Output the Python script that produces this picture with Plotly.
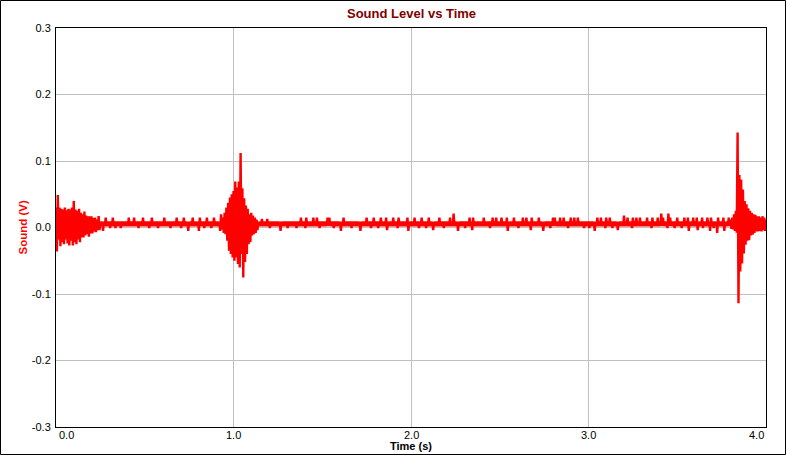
import numpy as np
import plotly.graph_objects as go

# ---------------- data ----------------
# trace resolved as one oscillation (high, low) per 10 ms bin, 0.00 .. 4.00 s
bin_s = 0.01
n_bins = 401

# quiet part of the signal: band between these levels (mV)
quiet_hi_mv = 9
quiet_lo_mv = 2

# isolated upward noise spikes in the quiet parts
spike_t = [0.28, 0.32, 0.41, 0.44, 0.49, 0.54, 0.61, 0.68, 0.72, 0.77, 0.81, 0.85, 0.89,
           1.16, 1.19, 1.38, 1.41, 1.45, 1.47, 1.53, 1.54, 1.62, 1.75, 1.79, 1.83, 1.86,
           1.90, 1.93, 1.98, 2.02, 2.06, 2.10, 2.16, 2.22, 2.24, 2.33, 2.35, 2.41, 2.46,
           2.48, 2.51, 2.54, 2.58, 2.63, 2.65, 2.68, 2.72, 2.80, 2.81, 2.84, 2.86, 2.90,
           2.92, 2.94, 3.05, 3.07, 3.10, 3.12, 3.20, 3.22, 3.25, 3.27, 3.29, 3.33, 3.36,
           3.39, 3.41, 3.42, 3.45, 3.46, 3.50, 3.54, 3.56, 3.59, 3.61, 3.64, 3.67, 3.69,
           3.73, 3.76, 3.79]
spike_mv = [15, 15, 15, 15, 15, 15, 15, 15, 15, 15, 15, 15, 15,
            13, 13, 15, 15, 15, 15, 15, 15, 15, 15, 15, 15, 15,
            15, 15, 15, 15, 15, 15, 15, 15, 21, 15, 15, 15, 15,
            15, 15, 15, 15, 15, 15, 15, 15, 15, 15, 15, 15, 15,
            15, 15, 15, 15, 15, 15, 18, 15, 15, 15, 15, 15, 15,
            15, 21, 15, 21, 15, 15, 15, 15, 15, 15, 15, 15, 15,
            15, 15, 15]

# downward dips in the quiet parts
dip_t = [0.26, 0.30, 0.33, 0.36, 0.46, 0.52, 0.57, 0.64, 0.70, 0.74, 0.80, 0.83, 0.87, 0.92,
         1.20, 1.26, 1.30, 1.35, 1.40, 1.48, 1.56, 1.60, 1.66, 1.71, 1.77, 1.81, 1.86, 1.92,
         1.98, 2.04, 2.08, 2.12, 2.18, 2.26, 2.30, 2.34, 2.44, 2.54, 2.60, 2.67, 2.74, 2.78,
         2.88, 2.97, 3.00, 3.03, 3.09, 3.13, 3.16, 3.24, 3.35, 3.44, 3.48, 3.52, 3.56, 3.61,
         3.64, 3.68, 3.70, 3.72, 3.76]
dip_mv = [-5, -1, -1, -1, -1, -1, -1, -1, -1, -5, -5, -1, -1, -5,
          -1, -5, -1, -1, -1, -1, -1, -5, -1, -5, -1, -1, -4, -1,
          -5, -1, -1, -4, -1, -5, -1, -4, -1, -5, -1, -4, -5, -1,
          -1, -1, -1, -5, -1, -1, -4, -1, -1, -1, -1, -1, -5, -4,
          -1, -5, -1, -8, -5]

# bursts: start time and (high, low) per bin in mV
burst1_t0 = 0.00
burst1_hi_mv = [30, 49, 30, 28, 27, 30, 26, 28, 27, 30, 40, 27, 25, 28, 22, 20, 24, 18, 17, 17, 17, 14, 15, 12, 17]
burst1_lo_mv = [-36, -18, -28, -22, -25, -18, -24, -27, -20, -27, -22, -25, -18, -22, -15, -15, -12, -10, -14, -9, -9, -6, -7, -4, -4]

burst2_t0 = 0.93
burst2_hi_mv = [20, 15, 22, 30, 37, 45, 50, 55, 69, 60, 69, 112, 59, 44, 33, 28, 20, 22, 18, 15, 12]
burst2_lo_mv = [-3, -8, -10, -20, -35, -40, -45, -50, -45, -55, -60, -40, -75, -52, -40, -25, -22, -12, -10, -8, -4]

burst3_t0 = 3.80
burst3_hi_mv = [12, 15, 20, 25, 143, 79, 72, 57, 40, 35, 29, 25, 22, 20, 19, 17, 17, 15, 17, 15, 12]
burst3_lo_mv = [-2, -3, -5, -8, -114, -66, -54, -39, -26, -20, -19, -12, -11, -8, -6, -6, -5, -6, -4, -5, -3]

x_tick_vals = [0, 1, 2, 3, 4]
x_tick_text = ["0.0", "1.0", "2.0", "3.0", "4.0"]
y_tick_vals = [-0.3, -0.2, -0.1, 0.0, 0.1, 0.2, 0.3]
y_tick_text = ["-0.3", "-0.2", "-0.1", "0.0", "0.1", "0.2", "0.3"]

# ---------------- assemble the trace ----------------
hi = np.full(n_bins, float(quiet_hi_mv))
lo = np.full(n_bins, float(quiet_lo_mv))
for t, v in zip(spike_t, spike_mv):
    hi[int(round(t / bin_s))] = v
for t, v in zip(dip_t, dip_mv):
    lo[int(round(t / bin_s))] = v
for t0, h, l in [(burst1_t0, burst1_hi_mv, burst1_lo_mv),
                 (burst2_t0, burst2_hi_mv, burst2_lo_mv),
                 (burst3_t0, burst3_hi_mv, burst3_lo_mv)]:
    i0 = int(round(t0 / bin_s))
    hi[i0:i0 + len(h)] = h
    lo[i0:i0 + len(l)] = l

idx = np.arange(n_bins)
time_s = np.empty(2 * n_bins)
time_s[0::2] = idx * bin_s
time_s[1::2] = idx * bin_s + bin_s / 2
sound_v = np.empty(2 * n_bins)
sound_v[0::2] = hi / 1000.0
sound_v[1::2] = lo / 1000.0

# ---------------- figure ----------------
W, H = 786, 455
ML, MR, MT, MB = 56, 20, 28, 28
PW, PH = W - ML - MR, H - MT - MB

def px(xp):
    return (xp - ML) / PW

def py(yp):
    return (H - MB - yp) / PH

fig = go.Figure()
fig.add_trace(go.Scatter(x=time_s, y=sound_v, mode="lines",
                         line=dict(color="#ff0000", width=2.4),
                         hoverinfo="skip", showlegend=False))

grid = "#c0c0c0"
font = "Liberation Sans, Arial, sans-serif"
fig.update_layout(
    width=W, height=H,
    margin=dict(l=ML, r=MR, t=MT, b=MB, pad=0),
    paper_bgcolor="white", plot_bgcolor="white",
    showlegend=False,
    font=dict(family=font, size=11, color="black"),
    xaxis=dict(range=[0, 4], tickvals=x_tick_vals, showticklabels=False,
               showgrid=True, gridcolor=grid, gridwidth=1, zeroline=False,
               showline=True, linecolor="black", linewidth=1, mirror=True,
               ticks=""),
    yaxis=dict(range=[-0.3, 0.3], tickvals=y_tick_vals, ticktext=y_tick_text,
               showgrid=True, gridcolor=grid, gridwidth=1,
               zeroline=True, zerolinecolor=grid, zerolinewidth=1,
               showline=True, linecolor="black", linewidth=1, mirror=True,
               ticks="outside", ticklen=2, tickcolor="white",
               tickfont=dict(family=font, size=11, color="black")),
)

annotations = [
    dict(text="<b>Sound Level vs Time</b>", xref="paper", yref="paper",
         x=0.5, y=py(14), xanchor="center", yanchor="middle", showarrow=False,
         font=dict(family=font, size=13, color="#800000")),
    dict(text="<b>Time (s)</b>", xref="paper", yref="paper",
         x=0.5, y=py(446), xanchor="center", yanchor="middle", showarrow=False,
         font=dict(family=font, size=11, color="black")),
    dict(text="<b>Sound (V)</b>", xref="paper", yref="paper", textangle=-90,
         x=px(22), y=0.5, xanchor="center", yanchor="middle", showarrow=False,
         font=dict(family=font, size=11.5, color="#ff0000")),
]
for v, txt in zip(x_tick_vals, x_tick_text):
    anchor = "left" if v == x_tick_vals[0] else ("right" if v == x_tick_vals[-1] else "center")
    annotations.append(dict(text=txt, xref="x", yref="paper", x=v, y=py(435),
                            xanchor=anchor, yanchor="middle", showarrow=False,
                            xshift=1 if anchor == "left" else 0,
                            font=dict(family=font, size=11, color="black")))
fig.update_layout(annotations=annotations)

fig.add_shape(type="rect", xref="paper", yref="paper",
              x0=px(0.5), x1=px(W - 0.5), y0=py(H - 0.5), y1=py(0.5),
              line=dict(color="black", width=1), fillcolor="rgba(0,0,0,0)",
              layer="above")

fig.write_html("out.html",
               config={"displayModeBar": False},
               post_script="document.body.style.margin='0';"
                           "document.body.style.overflow='hidden';")
